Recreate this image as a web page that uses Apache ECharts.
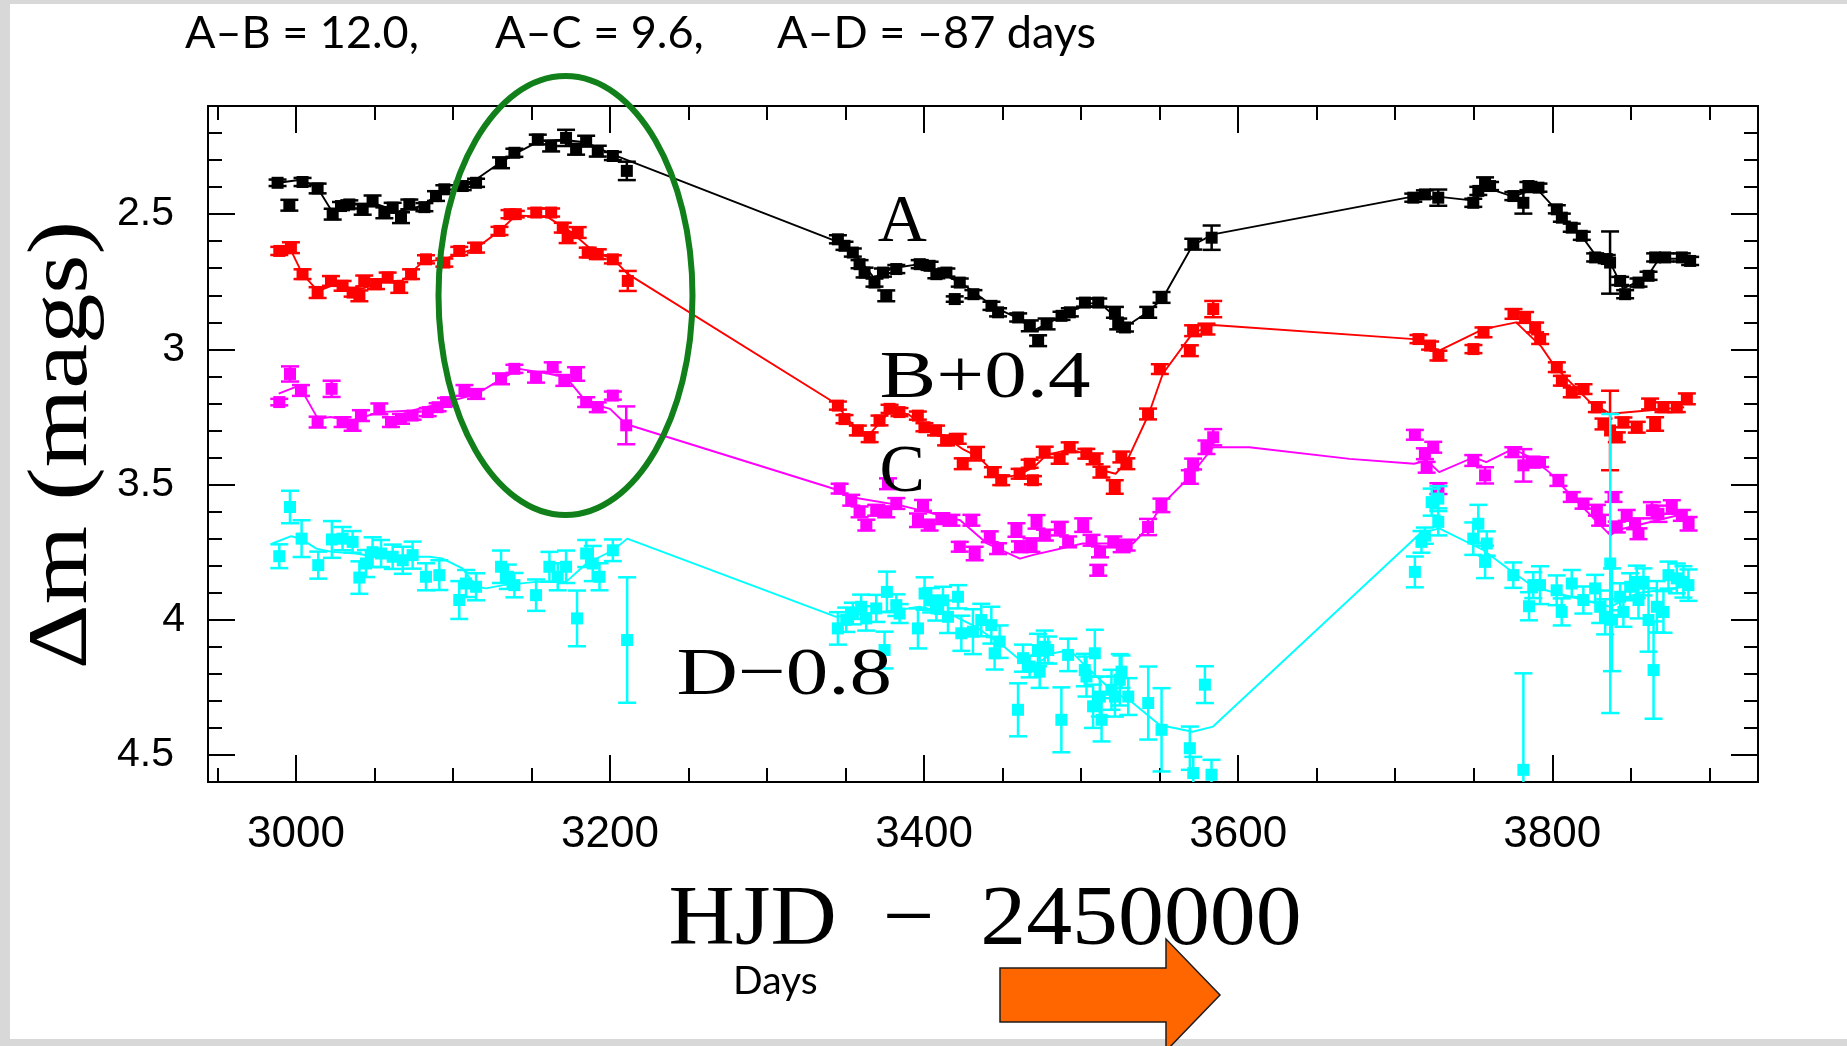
<!DOCTYPE html>
<html>
<head>
<meta charset="utf-8">
<title>Light curves A, B, C, D</title>
<script src="https://cdn.jsdelivr.net/npm/echarts@6/dist/echarts.min.js"></script>
<style>
  html, body { margin: 0; padding: 0; background: #d8d8d8; }
  #sheet { position: absolute; left: 10px; top: 4px; width: 1837px; height: 1035px; background: #fff; }
  #chart { position: absolute; left: 0; top: 0; width: 1847px; height: 1046px; }
</style>
</head>
<body>
<div id="sheet"></div>
<div id="chart"></div>
<script>
// ---- photometry: [HJD - 2450000, magnitude, 1-sigma error] ----
const aPoints = [
  [2988.3,2.384,0.012],[2995.8,2.467,0.02],[3004.2,2.381,0.015],[3013.8,2.405,0.018],[3023.4,2.500,0.02],
  [3028.7,2.470,0.015],[3034.0,2.464,0.015],[3042.5,2.482,0.02],[3048.8,2.451,0.02],[3056.3,2.495,0.02],
  [3061.6,2.476,0.018],[3066.9,2.513,0.02],[3072.2,2.464,0.018],[3081.8,2.474,0.015],[3089.2,2.433,0.018],
  [3094.5,2.408,0.015],[3106.2,2.396,0.015],[3114.7,2.384,0.015],[3130.6,2.310,0.02],[3139.1,2.273,0.015],
  [3154.0,2.224,0.018],[3162.5,2.248,0.02],[3172.0,2.218,0.03],[3178.4,2.260,0.02],[3184.8,2.230,0.02],
  [3192.2,2.267,0.02],[3201.8,2.285,0.015],[3210.7,2.340,0.034],
  [3345.1,2.593,0.015],[3349.3,2.617,0.015],[3354.6,2.642,0.015],[3358.9,2.685,0.015],[3362.1,2.716,0.018],
  [3368.4,2.753,0.015],[3373.8,2.716,0.015],[3375.9,2.802,0.02],[3382.3,2.703,0.015],[3397.2,2.685,0.015],
  [3403.5,2.691,0.015],[3407.8,2.722,0.015],[3414.2,2.716,0.015],[3419.5,2.814,0.01],[3422.7,2.753,0.015],
  [3431.4,2.796,0.015],[3442.9,2.839,0.015],[3447.1,2.863,0.015],[3459.9,2.882,0.015],[3467.3,2.913,0.02],
  [3472.6,2.968,0.02],[3478.0,2.906,0.02],[3487.5,2.876,0.015],[3492.8,2.863,0.015],[3502.4,2.827,0.015],
  [3510.9,2.827,0.015],[3521.5,2.863,0.02],[3523.6,2.906,0.02],[3527.9,2.919,0.015],[3542.7,2.863,0.02],
  [3551.2,2.808,0.02],[3571.4,2.611,0.02],[3583.1,2.587,0.045],
  [3711.5,2.439,0.015],[3718.9,2.427,0.015],[3727.4,2.439,0.03],[3749.7,2.458,0.015],[3752.9,2.414,0.015],
  [3757.2,2.384,0.02],[3760.4,2.396,0.015],[3775.2,2.433,0.015],[3781.6,2.458,0.04],[3784.8,2.396,0.015],
  [3791.2,2.402,0.015],[3802.9,2.482,0.015],[3806.1,2.513,0.015],[3812.4,2.550,0.015],[3818.8,2.580,0.015],
  [3827.3,2.660,0.015],[3834.7,2.666,0.015],[3836.8,2.679,0.115],[3843.2,2.747,0.015],[3846.4,2.796,0.015],
  [3854.9,2.753,0.015],[3861.3,2.728,0.015],[3865.5,2.660,0.015],[3871.9,2.660,0.015],[3882.5,2.660,0.015],
  [3887.8,2.673,0.015]
];

const bPoints = [
  [2989.4,2.636,0.015],[2996.8,2.624,0.02],[3004.2,2.722,0.018],[3013.8,2.790,0.02],[3022.3,2.747,0.018],
  [3029.7,2.765,0.018],[3036.1,2.790,0.015],[3040.4,2.802,0.02],[3043.5,2.747,0.02],[3051.0,2.759,0.018],
  [3058.4,2.734,0.018],[3065.8,2.771,0.02],[3073.3,2.722,0.018],[3082.8,2.667,0.015],[3094.5,2.679,0.015],
  [3104.0,2.636,0.015],[3114.7,2.624,0.018],[3129.6,2.562,0.015],[3136.0,2.500,0.015],[3140.0,2.500,0.012],
  [3153.0,2.494,0.015],[3162.5,2.494,0.015],[3169.9,2.550,0.018],[3173.0,2.587,0.02],[3179.4,2.568,0.02],
  [3185.8,2.642,0.018],[3192.2,2.648,0.018],[3201.8,2.667,0.015],[3211.3,2.747,0.037],
  [3345.1,3.208,0.015],[3349.3,3.258,0.015],[3357.8,3.300,0.018],[3365.3,3.325,0.018],[3371.6,3.263,0.018],
  [3378.0,3.220,0.015],[3384.3,3.232,0.015],[3396.0,3.245,0.015],[3400.2,3.288,0.015],[3407.6,3.300,0.018],
  [3414.0,3.337,0.018],[3421.4,3.331,0.018],[3424.6,3.423,0.02],[3433.1,3.386,0.025],[3443.8,3.454,0.018],
  [3449.1,3.484,0.018],[3460.8,3.460,0.018],[3467.2,3.423,0.015],[3469.3,3.484,0.015],[3476.8,3.380,0.02],
  [3486.3,3.405,0.018],[3492.7,3.362,0.018],[3503.3,3.386,0.018],[3508.6,3.405,0.02],[3512.9,3.454,0.02],
  [3521.4,3.509,0.025],[3525.6,3.398,0.02],[3528.8,3.423,0.02],[3542.6,3.239,0.02],[3550.1,3.073,0.018],
  [3569.2,3.005,0.02],[3571.3,2.931,0.02],[3579.8,2.925,0.02],[3584.1,2.851,0.03],
  [3714.8,2.962,0.015],[3722.2,2.986,0.015],[3727.5,3.023,0.018],[3749.8,2.999,0.015],[3756.2,2.937,0.018],
  [3775.3,2.869,0.018],[3782.7,2.882,0.02],[3789.1,2.919,0.018],[3792.3,2.962,0.018],[3802.9,3.066,0.018],
  [3806.1,3.116,0.018],[3812.4,3.159,0.018],[3819.9,3.147,0.018],[3828.4,3.214,0.018],[3832.6,3.276,0.02],
  [3836.8,3.300,0.147],[3841.1,3.325,0.018],[3845.3,3.270,0.018],[3853.8,3.288,0.02],[3862.3,3.202,0.02],
  [3865.5,3.276,0.025],[3870.8,3.214,0.018],[3879.3,3.214,0.018],[3885.7,3.183,0.02]
];

const cPoints = [
  [2989.4,3.195,0.012],[2996.2,3.091,0.028],[3003.2,3.152,0.02],[3013.8,3.269,0.02],[3022.7,3.146,0.03],
  [3029.7,3.269,0.018],[3036.1,3.281,0.02],[3041.4,3.245,0.02],[3053.1,3.220,0.02],[3060.5,3.269,0.018],
  [3066.9,3.257,0.018],[3074.3,3.245,0.015],[3083.9,3.232,0.015],[3090.2,3.214,0.015],[3095.6,3.195,0.015],
  [3107.3,3.152,0.02],[3114.7,3.165,0.018],[3130.6,3.109,0.02],[3139.1,3.072,0.015],[3152.9,3.103,0.02],
  [3163.5,3.066,0.018],[3170.9,3.115,0.02],[3178.4,3.091,0.025],[3184.8,3.195,0.018],[3192.2,3.214,0.018],
  [3201.8,3.171,0.015],[3210.3,3.281,0.07],
  [3346.2,3.515,0.018],[3353.6,3.558,0.02],[3358.9,3.601,0.02],[3363.2,3.650,0.02],[3369.5,3.595,0.02],
  [3375.9,3.601,0.02],[3377.0,3.497,0.02],[3382.3,3.570,0.02],[3396.1,3.632,0.025],[3399.3,3.577,0.02],
  [3403.5,3.650,0.02],[3411.0,3.626,0.02],[3417.4,3.632,0.02],[3422.7,3.730,0.018],[3430.1,3.632,0.02],
  [3432.2,3.755,0.025],[3441.8,3.693,0.02],[3447.1,3.737,0.02],[3458.8,3.668,0.025],[3461.0,3.730,0.02],
  [3468.4,3.724,0.025],[3471.6,3.638,0.025],[3476.9,3.687,0.02],[3486.4,3.663,0.025],[3491.7,3.712,0.02],
  [3501.3,3.650,0.025],[3506.6,3.706,0.02],[3510.9,3.817,0.02],[3512.0,3.749,0.02],[3520.5,3.712,0.02],
  [3525.8,3.730,0.02],[3529.0,3.724,0.02],[3542.6,3.657,0.03],[3551.1,3.577,0.025],[3569.2,3.472,0.025],
  [3571.3,3.424,0.02],[3579.8,3.362,0.025],[3584.1,3.325,0.03],
  [3712.5,3.316,0.018],[3718.9,3.386,0.02],[3720.0,3.436,0.02],[3724.2,3.362,0.02],[3727.5,3.515,0.02],
  [3749.7,3.411,0.02],[3757.2,3.466,0.03],[3775.2,3.380,0.018],[3781.6,3.429,0.06],[3786.9,3.417,0.02],
  [3792.2,3.417,0.018],[3803.9,3.485,0.02],[3812.4,3.546,0.018],[3819.9,3.571,0.018],[3828.4,3.595,0.02],
  [3830.5,3.632,0.02],[3839.0,3.546,0.018],[3841.1,3.657,0.02],[3847.4,3.614,0.02],[3852.7,3.645,0.02],
  [3854.9,3.682,0.02],[3863.4,3.595,0.03],[3867.6,3.608,0.03],[3876.1,3.583,0.025],[3882.5,3.614,0.02],
  [3886.8,3.645,0.025]
];

const dPoints = [
  [2989.4,3.765,0.044],[2996.2,3.583,0.06],[3003.6,3.700,0.068],[3014.2,3.798,0.05],[3022.9,3.703,0.068],
  [3029.7,3.700,0.043],[3036.1,3.712,0.04],[3040.4,3.844,0.06],[3044.6,3.792,0.05],[3048.8,3.750,0.055],
  [3054.2,3.755,0.05],[3061.6,3.767,0.045],[3068.0,3.780,0.05],[3074.3,3.761,0.05],[3082.8,3.841,0.05],
  [3091.3,3.835,0.055],[3104.0,3.927,0.07],[3108.3,3.866,0.05],[3114.7,3.878,0.05],[3130.6,3.804,0.06],
  [3134.9,3.841,0.045],[3139.1,3.872,0.045],[3152.9,3.909,0.058],[3161.4,3.804,0.055],[3166.7,3.841,0.05],
  [3172.0,3.804,0.06],[3179.0,3.995,0.103],[3184.8,3.755,0.05],[3189.0,3.792,0.065],[3193.3,3.841,0.05],
  [3201.8,3.743,0.04],[3210.9,4.075,0.232],
  [3345.1,4.032,0.06],[3350.4,4.000,0.045],[3354.6,3.977,0.04],[3359.9,3.952,0.045],[3363.1,3.995,0.045],
  [3369.5,3.958,0.05],[3374.8,4.112,0.068],[3376.3,3.897,0.075],[3382.3,3.946,0.04],[3384.4,3.977,0.035],
  [3396.1,4.032,0.074],[3400.3,3.903,0.06],[3404.5,3.928,0.045],[3407.8,3.958,0.045],[3412.0,3.928,0.05],
  [3415.2,3.989,0.06],[3421.6,3.915,0.043],[3423.7,4.050,0.065],[3431.1,4.044,0.083],[3436.4,4.001,0.06],
  [3442.8,4.020,0.068],[3444.9,4.124,0.06],[3448.1,4.081,0.06],[3459.8,4.333,0.098],[3463.0,4.142,0.05],
  [3467.2,4.173,0.04],[3472.5,4.112,0.06],[3473.6,4.192,0.06],[3476.8,4.100,0.06],[3479.0,4.112,0.05],
  [3487.4,4.370,0.12],[3491.7,4.130,0.06],[3502.3,4.186,0.06],[3503.4,4.210,0.074],[3507.6,4.320,0.08],
  [3508.7,4.124,0.087],[3511.9,4.284,0.074],[3513.0,4.370,0.08],[3519.3,4.259,0.074],[3521.5,4.284,0.074],
  [3524.6,4.222,0.095],[3525.7,4.192,0.06],[3530.0,4.284,0.068],[3542.7,4.308,0.135],[3551.2,4.407,0.154],
  [3569.2,4.475,0.08],[3571.4,4.567,0.06],[3578.8,4.240,0.068],[3583.0,4.573,0.055],
  [3712.5,3.823,0.057],[3716.7,3.712,0.04],[3718.9,3.689,0.03],[3723.2,3.565,0.05],[3727.4,3.552,0.046],
  [3727.4,3.638,0.05],[3749.7,3.700,0.06],[3752.9,3.645,0.07],[3757.2,3.786,0.06],[3758.3,3.718,0.045],
  [3775.2,3.835,0.047],[3781.6,4.555,0.357],[3785.2,3.950,0.052],[3787.9,3.872,0.048],[3792.2,3.872,0.07],
  [3802.8,3.891,0.055],[3806.0,3.971,0.05],[3812.4,3.866,0.05],[3819.8,3.927,0.05],[3827.3,3.884,0.05],
  [3830.5,3.952,0.06],[3833.7,3.989,0.065],[3836.9,3.792,0.553],[3838.0,4.000,0.19],[3843.2,3.915,0.05],
  [3845.3,3.971,0.055],[3849.6,3.878,0.05],[3853.8,3.860,0.06],[3854.9,3.927,0.068],[3858.1,3.860,0.05],
  [3861.3,4.001,0.117],[3864.5,4.186,0.18],[3866.6,3.952,0.095],[3870.8,3.971,0.077],[3874.0,3.835,0.05],
  [3879.3,3.847,0.055],[3883.5,3.860,0.058],[3886.7,3.872,0.058]
];

// ---- model light curves: [HJD - 2450000, magnitude] ----
const aCurve = [
  [2988,2.385],[3004,2.372],[3014,2.405],[3023,2.49],[3035,2.465],[3050,2.46],[3065,2.49],[3080,2.47],
  [3092,2.42],[3110,2.39],[3130,2.31],[3140,2.275],[3155,2.23],[3170,2.225],[3185,2.235],[3200,2.275],
  [3211,2.30],[3343,2.598],[3355,2.64],[3368,2.735],[3380,2.70],[3397,2.685],[3410,2.715],[3425,2.76],
  [3445,2.845],[3460,2.885],[3470,2.93],[3480,2.9],[3493,2.86],[3505,2.83],[3512,2.83],[3525,2.895],
  [3530,2.91],[3543,2.86],[3552,2.81],[3571,2.615],[3584,2.575],[3711,2.435],[3727,2.435],[3750,2.45],
  [3757,2.4],[3775,2.435],[3790,2.405],[3805,2.5],[3818,2.575],[3828,2.655],[3837,2.68],[3845,2.775],
  [3860,2.735],[3868,2.665],[3888,2.665]
];
const bCurve = [
  [2989,2.636],[2997,2.636],[3004,2.72],[3014,2.785],[3025,2.76],[3040,2.78],[3055,2.75],[3068,2.745],
  [3080,2.68],[3095,2.665],[3115,2.625],[3130,2.56],[3140,2.505],[3160,2.51],[3175,2.565],[3190,2.64],
  [3202,2.665],[3211,2.72],[3345,3.205],[3350,3.25],[3358,3.3],[3365,3.315],[3372,3.27],[3378,3.23],
  [3390,3.24],[3400,3.285],[3415,3.33],[3425,3.37],[3435,3.4],[3448,3.475],[3460,3.465],[3470,3.435],
  [3478,3.39],[3493,3.37],[3505,3.39],[3515,3.45],[3522,3.46],[3529,3.415],[3543,3.24],[3552,3.09],
  [3571,2.94],[3584,2.91],[3712,2.962],[3728,3.005],[3756,2.925],[3777,2.9],[3793,2.99],[3802,3.066],
  [3824,3.195],[3837,3.238],[3884,3.214]
];
const cCurve = [
  [2989,3.164],[3002,3.134],[3014,3.257],[3022,3.25],[3036,3.263],[3053,3.232],[3074,3.226],[3096,3.195],
  [3115,3.165],[3131,3.109],[3142,3.072],[3161,3.09],[3172,3.103],[3185,3.195],[3200,3.22],[3210,3.276],
  [3345,3.52],[3353,3.546],[3385,3.577],[3423,3.632],[3440,3.718],[3461,3.774],[3469,3.761],[3501,3.718],
  [3533,3.718],[3543,3.657],[3551,3.577],[3569,3.472],[3584,3.362],[3607,3.362],[3671,3.405],[3712,3.423],
  [3720,3.411],[3728,3.454],[3750,3.399],[3758,3.417],[3775,3.368],[3786,3.399],[3798,3.454],[3809,3.522],
  [3837,3.688],[3841,3.669],[3884,3.608]
];
const dCurve = [
  [2985,3.718],[2997,3.691],[3003,3.7],[3013,3.737],[3023,3.749],[3038,3.755],[3051,3.767],[3085,3.767],
  [3093,3.773],[3106,3.81],[3115,3.878],[3121,3.884],[3132,3.872],[3153,3.86],[3172,3.86],[3185,3.792],
  [3202,3.743],[3211,3.70],[3344,3.989],[3363,3.977],[3384,3.964],[3397,3.952],[3416,3.977],[3433,4.026],
  [3451,4.1],[3461,4.149],[3469,4.173],[3482,4.124],[3493,4.112],[3503,4.173],[3519,4.259],[3533,4.308],
  [3550,4.389],[3571,4.414],[3584,4.395],[3716,3.68],[3728,3.662],[3756,3.742],[3773,3.816],[3788,3.878],
  [3803,3.902],[3820,3.927],[3837,3.952],[3854,3.902],[3884,3.878]
];

// ---- axes ----
const xRange = [2944, 3931];
const yRange = [2.1, 4.6];
const xMajorTicks = [3000, 3200, 3400, 3600, 3800];
const xMinorTicks = [2950, 3000, 3050, 3100, 3150, 3200, 3250, 3300, 3350, 3400, 3450, 3500,
                     3550, 3600, 3650, 3700, 3750, 3800, 3850, 3900];
const yMajorTicks = [2.5, 3, 3.5, 4, 4.5];
const yMinorTicks = [2.2, 2.3, 2.4, 2.5, 2.6, 2.7, 2.8, 2.9, 3.0, 3.1, 3.2, 3.3, 3.4, 3.5,
                     3.6, 3.7, 3.8, 3.9, 4.0, 4.1, 4.2, 4.3, 4.4, 4.5];

const seriesTags = ['A', 'B+0.4', 'C', 'D\u22120.8'];
const titleParts = ['A\u2013B = 12.0,', 'A\u2013C = 9.6,', 'A\u2013D = \u201387 days'];

const INK = '#000';
const SERIF = '"Liberation Serif", "Times New Roman", serif';
const SANS = '"Liberation Sans", Arial, sans-serif';

function xAxisDef(position, ticks, len, withLabels) {
  return {
    type: 'value', position, min: xRange[0], max: xRange[1],
    axisLine: { show: true, onZero: false, lineStyle: { color: INK, width: 2 } },
    axisTick: { show: true, inside: true, length: len, customValues: ticks,
                lineStyle: { color: INK, width: 2 } },
    axisLabel: withLabels ? {
      show: true, customValues: xMajorTicks, margin: 31, color: INK,
      fontFamily: SANS, fontSize: 44, formatter: v => String(v)
    } : { show: false },
    splitLine: { show: false }, minorTick: { show: false }
  };
}
function yAxisDef(position, ticks, len, withLabels) {
  return {
    type: 'value', position, inverse: true, min: yRange[0], max: yRange[1],
    axisLine: { show: true, onZero: false, lineStyle: { color: INK, width: 2 } },
    axisTick: { show: true, inside: true, length: len, customValues: ticks,
                lineStyle: { color: INK, width: 2 } },
    axisLabel: withLabels ? {
      show: true, customValues: yMajorTicks, margin: 23, color: INK,
      fontFamily: SANS, fontSize: 41,
      formatter: v => Number.isInteger(v) ? '{i|' + v + '}' : '{d|' + v + '}',
      rich: {
        i: { fontFamily: SANS, fontSize: 41, color: INK },
        d: { fontFamily: SANS, fontSize: 41, color: INK, padding: [0, 11, 0, 0] }
      }
    } : { show: false },
    splitLine: { show: false }, minorTick: { show: false }
  };
}

// error bar + filled square marker for each measurement
function pointSeries(points, color) {
  return {
    type: 'custom', data: points, clip: true, z: 4,
    encode: { x: 0, y: 1 },
    renderItem(params, api) {
      const x = api.value(0), y = api.value(1), e = api.value(2);
      const c = api.coord([x, y]);
      const t = api.coord([x, y - e]);
      const b = api.coord([x, y + e]);
      const hw = 9, s = 12;
      const st = { stroke: color, lineWidth: 2.5 };
      return {
        type: 'group', children: [
          { type: 'line', shape: { x1: c[0], y1: t[1], x2: c[0], y2: b[1] }, style: st },
          { type: 'line', shape: { x1: c[0] - hw, y1: t[1], x2: c[0] + hw, y2: t[1] }, style: st },
          { type: 'line', shape: { x1: c[0] - hw, y1: b[1], x2: c[0] + hw, y2: b[1] }, style: st },
          { type: 'rect', shape: { x: c[0] - s / 2, y: c[1] - s / 2, width: s, height: s }, style: { fill: color } }
        ]
      };
    }
  };
}
function curveSeries(curve, color) {
  return {
    type: 'line', data: curve, showSymbol: false, symbol: 'none', z: 3,
    lineStyle: { color, width: 1.9 }, silent: true
  };
}

const chart = echarts.init(document.getElementById('chart'), null, { renderer: 'canvas' });
chart.setOption({
  animation: false,
  backgroundColor: 'transparent',
  grid: { left: 208, top: 106, right: 89, bottom: 264, containLabel: false, outerBoundsMode: 'none' },
  xAxis: [
    xAxisDef('bottom', xMajorTicks, 27, true),
    xAxisDef('top', xMajorTicks, 27, false),
    xAxisDef('bottom', xMinorTicks, 14, false),
    xAxisDef('top', xMinorTicks, 14, false)
  ],
  yAxis: [
    yAxisDef('left', yMajorTicks, 27, true),
    yAxisDef('right', yMajorTicks, 27, false),
    yAxisDef('left', yMinorTicks, 14, false),
    yAxisDef('right', yMinorTicks, 14, false)
  ],
  series: [
    curveSeries(aCurve, '#000000'),
    curveSeries(bCurve, '#ff0000'),
    curveSeries(cCurve, '#ff00ff'),
    curveSeries(dCurve, '#00ffff'),
    pointSeries(aPoints, '#000000'),
    pointSeries(bPoints, '#ff0000'),
    pointSeries(cPoints, '#ff00ff'),
    pointSeries(dPoints, '#00ffff')
  ]
});

// curve names placed in data space, slide annotations on top
const tagAnchors = [[3370.4, 2.61, 1.0], [3371.6, 3.186, 1.25], [3371.6, 3.533, 1.0], [3242.3, 4.285, 1.25]];
const tagSize = 68;
const tagTexts = seriesTags.map((txt, i) => {
  const a = tagAnchors[i];
  const p = chart.convertToPixel({ xAxisIndex: 0, yAxisIndex: 0 }, [a[0], a[1]]);
  return {
    type: 'text', x: p[0], y: p[1] - 0.305 * tagSize, scaleX: a[2], z: 50,
    style: { text: txt, fill: INK, font: tagSize + 'px ' + SERIF, align: 'left', verticalAlign: 'middle' }
  };
});

const titleX = [185, 495, 777];
const titleTexts = titleParts.map((txt, i) => ({
  type: 'text', x: titleX[i], y: 33, z: 50,
  style: { text: txt, fill: INK, font: '45px Lato, "Open Sans", sans-serif', align: 'left', verticalAlign: 'middle' }
}));

chart.setOption({
  graphic: [
    ...titleTexts,
    ...tagTexts,
    { type: 'text', x: 64, y: 445, rotation: Math.PI / 2, scaleX: 1.2, z: 50,
      style: { text: '\u0394m (mags)', fill: INK, font: '84px ' + SERIF, align: 'center', verticalAlign: 'middle' } },
    { type: 'text', x: 985, y: 922, scaleX: 1.08, z: 50,
      style: { text: 'HJD  \u2212  2450000', fill: INK, font: '85px ' + SERIF, align: 'center', verticalAlign: 'middle' } },
    { type: 'text', x: 733, y: 981, z: 50,
      style: { text: 'Days', fill: INK, font: '39px Lato, "Open Sans", sans-serif', align: 'left', verticalAlign: 'middle' } },
    { type: 'ellipse', z: 60, shape: { cx: 565.5, cy: 295.5, rx: 127, ry: 219.5 },
      style: { fill: 'none', stroke: '#11801a', lineWidth: 6 } },
    { type: 'polygon', z: 60,
      shape: { points: [[1000, 968], [1166, 968], [1166, 939], [1220, 995], [1166, 1051], [1166, 1022], [1000, 1022]] },
      style: { fill: '#ff6600', stroke: '#1c1c1c', lineWidth: 1.5 } }
  ]
});
</script>
</body>
</html>
